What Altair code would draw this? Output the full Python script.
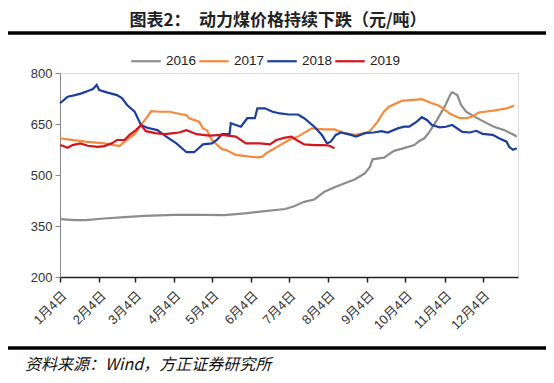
import altair as alt
import pandas as pd

SERIES = ["2016", "2017", "2018", "2019"]
COLORS = ["#8c8c8c", "#f58a3c", "#1c3f9c", "#d3161c"]
TICK_DATES = ["01-04", "02-04", "03-04", "04-04", "05-04", "06-04",
              "07-04", "08-04", "09-04", "10-04", "11-04", "12-04"]
Y_TICKS = [200, 350, 500, 650, 800]

d2016 = ["01-04", "01-16", "01-24", "02-08", "02-24", "03-12", "04-04", "04-28", "05-14", "05-30",
         "06-15", "07-01", "07-08", "07-16", "07-24", "08-01", "08-09", "08-17", "08-25", "09-02",
         "09-06", "09-08", "09-17", "09-25", "10-03", "10-11", "10-15", "10-19", "10-23", "10-29",
         "11-04", "11-09", "11-10", "11-14", "11-17", "11-21", "11-28", "12-05", "12-13", "12-21",
         "12-29", "12-31"]
v2016 = [370, 367, 367, 372, 376, 380, 383, 383, 382, 387,
         394, 400, 408, 421, 428, 451, 464, 476, 487, 505,
         524, 546, 551, 571, 579, 588, 600, 608, 627, 662,
         701, 740, 743, 735, 706, 686, 671, 657, 642, 632,
         618, 612]

d2017 = ["01-04", "01-10", "01-24", "02-08", "02-20", "02-24", "03-04", "03-10", "03-14", "03-17",
         "03-24", "04-01", "04-04", "04-14", "04-16", "04-24", "04-27", "04-30", "05-04", "05-12",
         "05-15", "05-23", "06-03", "06-09", "06-13", "06-16", "06-27", "07-04", "07-11", "07-22",
         "08-01", "08-09", "08-17", "08-25", "09-02", "09-06", "09-12", "09-17", "09-21", "10-01",
         "10-17", "10-25", "10-31", "11-08", "11-16", "11-21", "11-25", "12-01", "12-12", "12-23",
         "12-29"]
v2017 = [608, 605, 598, 593, 585, 598, 620, 652, 671, 688,
         686, 686, 683, 676, 667, 657, 637, 632, 603, 576,
         574, 559, 554, 552, 554, 564, 588, 603, 613, 637,
         634, 634, 623, 618, 623, 629, 657, 686, 701, 718,
         723, 711, 703, 681, 667, 667, 671, 684, 689, 696,
         704]

d2018 = ["01-04", "01-10", "01-16", "01-21", "01-26", "01-30", "02-02", "02-04", "02-10", "02-18",
         "02-22", "02-26", "03-04", "03-09", "03-14", "03-22", "03-29", "04-06", "04-14", "04-20",
         "04-27", "05-04", "05-08", "05-12", "05-18", "05-19", "05-23", "05-27", "06-01", "06-07",
         "06-09", "06-15", "06-21", "06-27", "07-04", "07-11", "07-16", "07-24", "07-30", "08-03",
         "08-06", "08-10", "08-14", "08-22", "08-26", "09-02", "09-09", "09-15", "09-20", "09-28",
         "10-03", "10-07", "10-13", "10-17", "10-21", "10-25", "10-31", "11-05", "11-10", "11-18",
         "11-24", "11-29", "12-04", "12-12", "12-17", "12-23", "12-25", "12-28", "12-31"]
v2018 = [711, 730, 735, 740, 747, 753, 765, 750, 743, 735,
         726, 706, 686, 647, 639, 632, 613, 593, 567, 567,
         590, 593, 603, 620, 620, 652, 647, 642, 667, 667,
         696, 696, 686, 681, 678, 678, 667, 642, 618, 593,
         598, 618, 625, 618, 613, 623, 625, 629, 625, 637,
         642, 642, 657, 670, 662, 647, 640, 642, 647, 627,
         625, 630, 621, 618, 608, 598, 583, 574, 579]

d2019 = ["01-04", "01-06", "01-10", "01-14", "01-20", "01-26", "02-03", "02-08", "02-14", "02-18",
         "02-24", "02-28", "03-05", "03-09", "03-13", "03-20", "03-28", "04-04", "04-08", "04-14",
         "04-22", "05-02", "05-12", "05-23", "05-31", "06-11", "06-19", "06-24", "07-01", "07-06",
         "07-10", "07-16", "07-24", "08-01", "08-05", "08-09"]
v2019 = [588, 586, 580, 588, 593, 586, 583, 585, 593, 603,
         603, 618, 632, 647, 629, 623, 620, 623, 625, 632,
         620, 616, 618, 613, 593, 593, 590, 603, 610, 613,
         603, 590, 588, 588, 586, 579]

TITLE = "图表2：　动力煤价格持续下跌（元/吨）"
SOURCE = "资料来源：Wind，方正证券研究所"

rows = []
for name, ds, vs in zip(SERIES, [d2016, d2017, d2018, d2019], [v2016, v2017, v2018, v2019]):
    for d, v in zip(ds, vs):
        rows.append({"series": name, "date": f"2018-{d}T00:00:00", "value": v})
df = pd.DataFrame(rows)

W, H = 458, 204
LATIN = "Liberation Sans, Noto Sans CJK SC"
CJK = "Noto Sans CJK SC"

tick_vals = [alt.DateTime(year=2018, month=int(t[:2]), date=int(t[3:])) for t in TICK_DATES]

lines = alt.Chart(df).mark_line(strokeWidth=2.2).encode(
    x=alt.X("date:T",
            scale=alt.Scale(domain=[alt.DateTime(year=2018, month=1, date=4),
                                    alt.DateTime(year=2019, month=1, date=1)]),
            axis=alt.Axis(title=None, values=tick_vals, format="%-m月%-d日", labelAngle=-45,
                          labelFontSize=13, labelFont=LATIN, labelColor="#333",
                          labelOverlap=False,
                          domainColor="#222", domainWidth=1.5, tickColor="#222", tickWidth=1.5,
                          tickSize=5, grid=False, labelPadding=7)),
    y=alt.Y("value:Q",
            scale=alt.Scale(domain=[200, 800], nice=False, zero=False),
            axis=alt.Axis(title=None, values=Y_TICKS, labelFontSize=13, labelFont=LATIN,
                          labelColor="#333", domainColor="#888", tickColor="#888", tickSize=5,
                          grid=False, labelPadding=3)),
    color=alt.Color("series:N",
                    scale=alt.Scale(domain=SERIES, range=COLORS),
                    legend=alt.Legend(title=None, orient="none", legendX=70, legendY=-28,
                                      direction="horizontal", symbolType="stroke",
                                      symbolSize=870, symbolStrokeWidth=2.2,
                                      labelFontSize=13.5, labelFont=LATIN, labelColor="#222",
                                      gridAlign="all", columnPadding=-3, labelOffset=4,
                                      padding=0)),
)

one = pd.DataFrame({"k": [0]})

title = alt.Chart(one).mark_text(text=TITLE, font=CJK, fontSize=17, fontWeight="bold",
                                 color="#222", align="center", baseline="middle").encode(
    x=alt.value(218), y=alt.value(-52))

top_rule = alt.Chart(one).mark_rule(color="#000", strokeWidth=3.5).encode(
    x=alt.value(-53), x2=alt.value(487), y=alt.value(-40))

bottom_rule = alt.Chart(one).mark_rule(color="#000", strokeWidth=3.5).encode(
    x=alt.value(-53), x2=alt.value(487), y=alt.value(275))

source = alt.Chart(one).mark_text(text=SOURCE, font=CJK, fontSize=16, fontStyle="italic",
                                  color="#111", align="left", baseline="middle").encode(
    x=alt.value(-35), y=alt.value(292))

chart = alt.layer(lines, title, top_rule, bottom_rule, source).properties(
    width=W, height=H,
    autosize=alt.AutoSizeParams(type="none"),
    padding={"left": 52, "top": 65, "right": 28, "bottom": 98},
).configure_view(stroke=None).configure(background="white")

chart.save("out.html", embed_options={"renderer": "svg", "actions": False})
